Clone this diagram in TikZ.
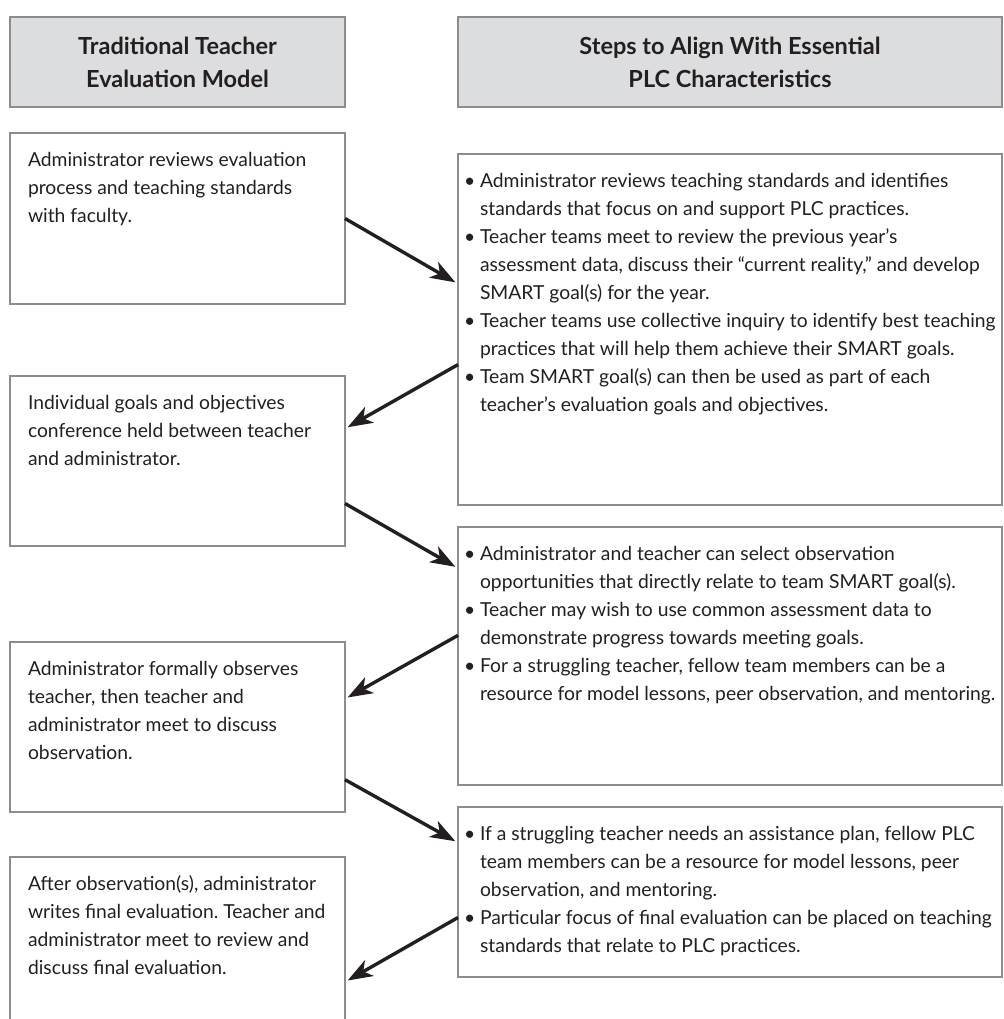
\documentclass[tikz,border=0pt]{standalone}
\usepackage{fontspec}
\setmainfont{Lato}
\usetikzlibrary{arrows.meta,calc}
\definecolor{ink}{HTML}{231F20}      % text and arrows
\definecolor{rulegray}{HTML}{8C8C8E} % box borders
\definecolor{headgray}{HTML}{DCDDDE} % header fill
\frenchspacing
\newcommand{\bodyfont}{\fontsize{19.3}{28}\selectfont}
\newcommand{\headfont}{\fontsize{23.5}{33}\selectfont\bfseries}
\newcommand{\boxbody}[3]{\parbox[c][#2][t]{#1}{\raggedright #3}}
\newcommand{\bul}{\par\noindent\hangindent=16pt\hangafter=1\makebox[16pt][l]{\textbullet}}

\begin{document}
\begin{tikzpicture}[x=1pt,y=-1pt,
  head/.style={draw=rulegray,line width=1.6pt,fill=headgray,minimum height=90pt,anchor=north west,outer sep=0pt,inner sep=0pt,align=center,font=\headfont,text=ink},
  box/.style={draw=rulegray,line width=1.6pt,anchor=north west,outer sep=0pt,inner xsep=18pt,inner ysep=19pt,font=\bodyfont,text=ink},
  listbox/.style={box,inner xsep=6pt},
  link/.style={-{Stealth[length=25pt,width=18pt,inset=7pt]},line width=3.4pt,draw=ink,shorten >=3pt}]

\clip (0,0) rectangle (1003,1019);

\node at (10,17) [head,minimum width=335pt] (hl) {Traditional Teacher\\Evaluation Model};
\node at (458,17) [head,minimum width=544pt] (hr) {Steps to Align With Essential\\PLC Characteristics};

\node at (10,133) [box] (l1) {\boxbody{299pt}{133pt}{Administrator reviews evaluation\newline process and teaching standards\newline with faculty.}};
\node at (10,376) [box] (l2) {\boxbody{299pt}{132pt}{Individual goals and objectives\newline conference held between teacher\newline and administrator.}};
\node at (10,642) [box] (l3) {\boxbody{299pt}{132pt}{Administrator formally observes\newline teacher, then teacher and\newline administrator meet to discuss\newline observation.}};
\node at (10,857) [box] (l4) {\boxbody{299pt}{145pt}{After observation(s), administrator\newline writes final evaluation. Teacher and\newline administrator meet to review and\newline discuss final evaluation.}};

\node at (458,154) [listbox] (r1) {\boxbody{532pt}{313pt}{%
  \bul Administrator reviews teaching standards and identifies\newline standards that focus on and support PLC practices.
  \bul Teacher teams meet to review the previous year’s\newline assessment data, discuss their “current reality,” and develop\newline SMART goal(s) for the year.
  \bul Teacher teams use collective inquiry to identify best teaching\newline practices that will help them achieve their SMART goals.
  \bul Team SMART goal(s) can then be used as part of each\newline teacher’s evaluation goals and objectives.}};
\node at (458,527) [listbox] (r2) {\boxbody{532pt}{220pt}{%
  \bul Administrator and teacher can select observation\newline opportunities that directly relate to team SMART goal(s).
  \bul Teacher may wish to use common assessment data to\newline demonstrate progress towards meeting goals.
  \bul For a struggling teacher, fellow team members can be a\newline resource for model lessons, peer observation, and mentoring.}};
\node at (458,807) [listbox] (r3) {\boxbody{532pt}{132pt}{%
  \bul If a struggling teacher needs an assistance plan, fellow PLC\newline team members can be a resource for model lessons, peer\newline observation, and mentoring.
  \bul Particular focus of final evaluation can be placed on teaching\newline standards that relate to PLC practices.}};

\draw[link] (l1.east) -- ($(r1.north west)!.37!(r1.south west)$);
\draw[link] ($(r1.north west)!.60!(r1.south west)$) -- ($(l2.north east)!.31!(l2.south east)$);
\draw[link] ($(l2.north east)!.75!(l2.south east)$) -- ($(r2.north west)!.16!(r2.south west)$);
\draw[link] ($(r2.north west)!.42!(r2.south west)$) -- ($(l3.north east)!.335!(l3.south east)$);
\draw[link] ($(l3.north east)!.81!(l3.south east)$) -- ($(r3.north west)!.21!(r3.south west)$);
\draw[link] ($(r3.north west)!.65!(r3.south west)$) -- ($(l4.north east)+(0,125)$);
\end{tikzpicture}
\end{document}
